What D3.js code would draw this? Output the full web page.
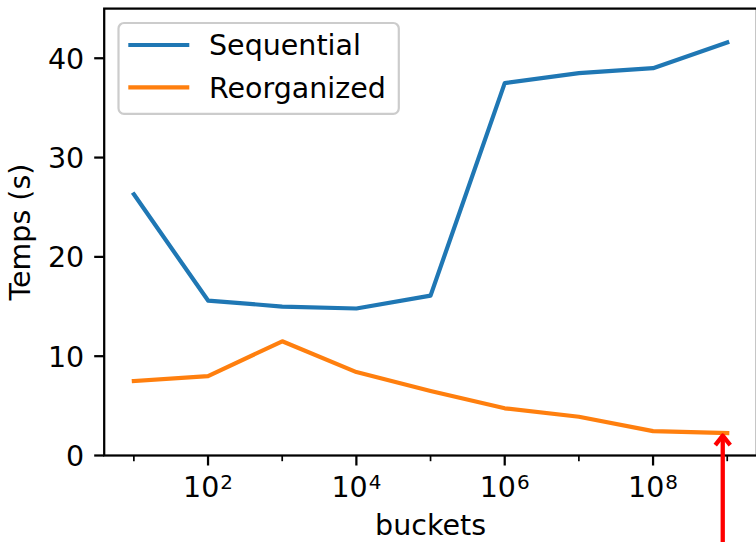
<!DOCTYPE html>
<html>
<head>
<meta charset="utf-8">
<script src="https://cdn.jsdelivr.net/npm/d3@7"></script>
<style>
  html, body { margin: 0; padding: 0; background: #fff; }
  svg { display: block; font-family: "DejaVu Sans", sans-serif; }
</style>
</head>
<body>
<svg id="chart" width="756" height="542"></svg>
<script>
// ---- data ----
const buckets = [1e1, 1e2, 1e3, 1e4, 1e5, 1e6, 1e7, 1e8, 1e9];
const sequential = [26.3, 15.6, 15.0, 14.8, 16.1, 37.5, 38.5, 39.0, 41.6];
const reorganized = [7.5, 8.0, 11.5, 8.4, 6.5, 4.75, 3.9, 2.45, 2.25];
const seriesNames = ["Sequential", "Reorganized"];
const seriesColors = ["#1f77b4", "#ff7f0e"];
const yTicks = [0, 10, 20, 30, 40];
const xMajorExp = [2, 4, 6, 8];
const xMinorExp = [1, 3, 5, 7, 9];
const xLabel = "buckets";
const yLabel = "Temps (s)";
const arrowX = 8.7e8;   // annotation arrow position (data)
const arrowTip = 2.0;   // annotation arrow tip value (data)

// ---- layout ----
const svg = d3.select("#chart");
const L = 104.2, R = 756.9, T = 8.6, B = 455.5;
const fs = 28.5;
const tickLen = 10, tickPad = 10;

const x = d3.scaleLog().domain([Math.pow(10, 0.6), Math.pow(10, 9.4)]).range([L, R]);
const y = d3.scaleLinear().domain([0, 45]).range([B, T]);

// ---- lines ----
const line = d3.line().x((d, i) => x(buckets[i])).y(d => y(d));
[sequential, reorganized].forEach((s, k) => {
  svg.append("path")
    .attr("d", line(s))
    .attr("fill", "none")
    .attr("stroke", seriesColors[k])
    .attr("stroke-width", 4.2)
    .attr("stroke-linecap", "square")
    .attr("stroke-linejoin", "round");
});

// ---- spines ----
const sw = 2.25;
svg.append("rect").attr("x", L).attr("y", T).attr("width", R - L).attr("height", B - T)
  .attr("fill", "none").attr("stroke", "#000").attr("stroke-width", sw)
  .attr("stroke-linejoin", "miter");

// ---- y ticks ----
const yg = svg.append("g");
yTicks.forEach(v => {
  yg.append("line").attr("x1", L).attr("x2", L - tickLen).attr("y1", y(v)).attr("y2", y(v))
    .attr("stroke", "#000").attr("stroke-width", sw);
  yg.append("text").attr("x", L - tickLen - tickPad).attr("y", y(v) + 0.364 * fs)
    .attr("text-anchor", "end").attr("font-size", fs).attr("fill", "#000").text(v);
});

// ---- x ticks ----
const xg = svg.append("g");
xMajorExp.forEach(e => {
  const px = x(Math.pow(10, e));
  xg.append("line").attr("x1", px).attr("x2", px).attr("y1", B).attr("y2", B + tickLen)
    .attr("stroke", "#000").attr("stroke-width", sw);
  const t = xg.append("text").attr("x", px).attr("y", 497)
    .attr("text-anchor", "middle").attr("font-size", fs).attr("fill", "#000");
  t.append("tspan").text("10");
  t.append("tspan").attr("font-size", fs * 0.7).attr("dy", -8.5).attr("dx", 1).text(e);
});
xMinorExp.forEach(e => {
  const px = x(Math.pow(10, e));
  xg.append("line").attr("x1", px).attr("x2", px).attr("y1", B).attr("y2", B + 5.7)
    .attr("stroke", "#000").attr("stroke-width", 1.7);
});

// ---- axis labels ----
svg.append("text").attr("x", (L + R) / 2).attr("y", 535.3)
  .attr("text-anchor", "middle").attr("font-size", fs).attr("fill", "#000").text(xLabel);
svg.append("text")
  .attr("transform", `translate(30,${(T + B) / 2}) rotate(-90)`)
  .attr("text-anchor", "middle").attr("font-size", fs).attr("fill", "#000").text(yLabel);

// ---- legend ----
const lg = svg.append("g");
lg.append("rect").attr("x", 118.5).attr("y", 23).attr("width", 280.3).attr("height", 90.8)
  .attr("rx", 5.5).attr("ry", 5.5)
  .attr("fill", "rgba(255,255,255,0.8)").attr("stroke", "#cccccc").attr("stroke-width", 2.2);
const legY = [45, 87.3];
seriesNames.forEach((n, k) => {
  lg.append("line").attr("x1", 128.3).attr("x2", 189.3).attr("y1", legY[k]).attr("y2", legY[k])
    .attr("stroke", seriesColors[k]).attr("stroke-width", 4.2).attr("stroke-linecap", "butt");
  lg.append("text").attr("x", 209).attr("y", legY[k] + 0.364 * fs)
    .attr("font-size", fs).attr("fill", "#000").text(n);
});

// ---- annotation arrow ----
const ax = x(arrowX), ay = y(arrowTip);
svg.append("line").attr("x1", ax).attr("x2", ax).attr("y1", 560).attr("y2", ay)
  .attr("stroke", "#ff0000").attr("stroke-width", 4.3);
svg.append("path")
  .attr("d", `M${ax - 7.5},${ay + 9.5} L${ax},${ay} L${ax + 7.5},${ay + 9.5}`)
  .attr("fill", "none").attr("stroke", "#ff0000").attr("stroke-width", 4.3)
  .attr("stroke-linejoin", "round").attr("stroke-linecap", "butt");
</script>
</body>
</html>
